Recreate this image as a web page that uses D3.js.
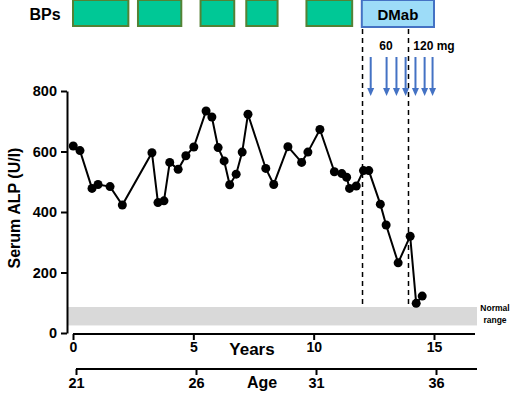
<!DOCTYPE html>
<html>
<head>
<meta charset="utf-8">
<script src="https://cdn.jsdelivr.net/npm/d3@7"></script>
<style>
  body { margin: 0; background: #fff; }
  svg text { font-family: "Liberation Sans", Arial, sans-serif; font-weight: bold; }
</style>
</head>
<body>
<div id="chart"></div>
<script>
// data
const years = [0.01, 0.29, 0.79, 1.04, 1.54, 2.05, 3.28, 3.53, 3.78, 4.02, 4.37, 4.69, 5.02, 5.53, 5.77,
  6.03, 6.28, 6.51, 6.78, 7.03, 7.27, 8.01, 8.34, 8.93, 9.50, 9.76, 10.26, 10.86, 11.17, 11.37,
  11.49, 11.77, 12.07, 12.29, 12.77, 13.01, 13.51, 14.01, 14.26, 14.51];
const alp = [618, 603, 478, 491, 484, 423, 596, 431, 437, 564, 541, 586, 615, 734, 714,
  613, 569, 490, 525, 598, 723, 544, 491, 616, 564, 598, 673, 533, 527, 515,
  478, 486, 537, 537, 426, 357, 232, 320, 98, 122];
const bpStart = [0, 2.7, 5.3, 7.2, 9.7];
const bpEnd = [2.3, 4.5, 6.7, 8.5, 11.6];
const dmab = [12.0, 15.0];
const doseSwitch = [12.03, 13.94];
const injections = [12.37, 13.03, 13.44, 13.82, 14.23, 14.61, 14.94];
const normalRange = [25, 86];
const yTicks = [0, 200, 400, 600, 800];
const yearTicks = [0, 5, 10, 15];
const ageTicks = [21, 26, 31, 36];

const W = 520, H = 393;
const svg = d3.select("#chart").append("svg").attr("width", W).attr("height", H);

const x = d3.scaleLinear().domain([0, 15]).range([73, 434]);
const y = d3.scaleLinear().domain([0, 800]).range([333, 91]);
const age = d3.scaleLinear().domain([21, 36]).range([76, 436]);

// normal range band
svg.append("rect")
  .attr("x", 68).attr("width", 477 - 68)
  .attr("y", y(normalRange[1])).attr("height", y(normalRange[0]) - y(normalRange[1]))
  .attr("fill", "#d9d9d9");
svg.append("text").attr("x", 495).attr("y", 311).attr("text-anchor", "middle")
  .attr("font-size", 8.5).text("Normal");
svg.append("text").attr("x", 495).attr("y", 323).attr("text-anchor", "middle")
  .attr("font-size", 8.5).text("range");

// treatment boxes
svg.append("text").attr("x", 45).attr("y", 20).attr("text-anchor", "middle")
  .attr("font-size", 16).text("BPs");
svg.selectAll("rect.bp").data(bpStart).join("rect")
  .attr("class", "bp")
  .attr("x", d => x(d)).attr("y", 0)
  .attr("width", (d, i) => x(bpEnd[i]) - x(d)).attr("height", 26)
  .attr("fill", "#00c896").attr("stroke", "#548235").attr("stroke-width", 2);
svg.append("rect")
  .attr("x", x(dmab[0])).attr("y", 0)
  .attr("width", x(dmab[1]) - x(dmab[0])).attr("height", 27)
  .attr("fill", "#9ddcf8").attr("stroke", "#4472c4").attr("stroke-width", 2);
svg.append("text").attr("x", (x(dmab[0]) + x(dmab[1])) / 2).attr("y", 20)
  .attr("text-anchor", "middle").attr("font-size", 15).text("DMab");

// dose labels
svg.append("text").attr("x", 386).attr("y", 50).attr("text-anchor", "middle")
  .attr("font-size", 12).text("60");
svg.append("text").attr("x", 434).attr("y", 50).attr("text-anchor", "middle")
  .attr("font-size", 12).text("120 mg");

// dashed lines
svg.selectAll("line.dash").data(doseSwitch).join("line")
  .attr("class", "dash")
  .attr("x1", d => x(d)).attr("x2", d => x(d))
  .attr("y1", 29).attr("y2", 305)
  .attr("stroke", "#000").attr("stroke-width", 1.5).attr("stroke-dasharray", "5,4");

// injection arrows
const arrows = svg.append("g").attr("fill", "#4472c4").attr("stroke", "#4472c4");
injections.forEach(d => {
  const cx = x(d);
  arrows.append("line").attr("x1", cx).attr("x2", cx).attr("y1", 57).attr("y2", 89)
    .attr("stroke-width", 2);
  arrows.append("path").attr("stroke", "none")
    .attr("d", `M${cx - 3.5},88 L${cx + 3.5},88 L${cx},96 Z`);
});

// y axis
const yAxis = svg.append("g").attr("transform", "translate(67,0)")
  .call(d3.axisLeft(y).tickValues(yTicks).tickSize(6).tickPadding(4).tickSizeOuter(0));
yAxis.selectAll("text").attr("font-size", 14.5).attr("font-family", "Liberation Sans").attr("font-weight", "bold");
yAxis.selectAll("line,path").attr("stroke", "#000").attr("stroke-width", 2);
svg.append("text").attr("transform", "translate(20,208) rotate(-90)")
  .attr("text-anchor", "middle").attr("font-size", 16).text("Serum ALP (U/l)");

// years axis
const xAxis = svg.append("g").attr("transform", "translate(0,334)")
  .call(d3.axisBottom(x).tickValues(yearTicks).tickSize(6).tickPadding(2).tickSizeOuter(0));
xAxis.select(".domain").attr("d", `M${x(0)},0H475`);
xAxis.selectAll("text").attr("font-size", 14).attr("font-family", "Liberation Sans").attr("font-weight", "bold");
xAxis.selectAll("line,path").attr("stroke", "#000").attr("stroke-width", 2);
svg.append("text").attr("x", 252).attr("y", 355).attr("text-anchor", "middle")
  .attr("font-size", 17).text("Years");

// age axis
const aAxis = svg.append("g").attr("transform", "translate(0,369)")
  .call(d3.axisBottom(age).tickValues(ageTicks).tickSize(6).tickPadding(3).tickSizeOuter(0));
aAxis.select(".domain").attr("d", `M${age(21)},0H477`);
aAxis.selectAll("text").attr("font-size", 14.5).attr("font-family", "Liberation Sans").attr("font-weight", "bold");
aAxis.selectAll("line,path").attr("stroke", "#000").attr("stroke-width", 2);
svg.append("text").attr("x", 262).attr("y", 388).attr("text-anchor", "middle")
  .attr("font-size", 16).text("Age");

// data line + dots
const pts = years.map((d, i) => [d, alp[i]]);
svg.append("path").datum(pts)
  .attr("fill", "none").attr("stroke", "#000").attr("stroke-width", 2)
  .attr("d", d3.line().x(d => x(d[0])).y(d => y(d[1])));
svg.selectAll("circle").data(pts).join("circle")
  .attr("cx", d => x(d[0])).attr("cy", d => y(d[1])).attr("r", 4.5).attr("fill", "#000");
</script>
</body>
</html>
